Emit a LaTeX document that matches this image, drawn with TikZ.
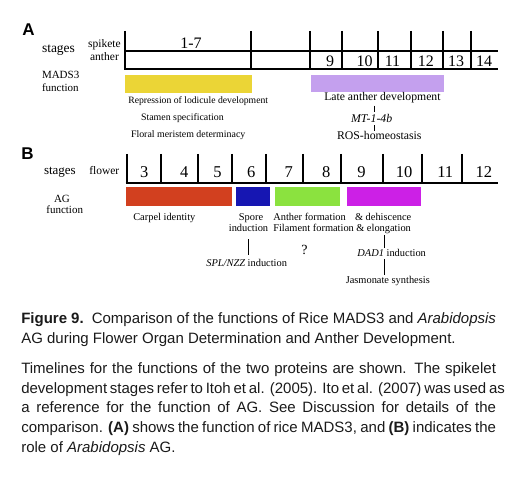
\documentclass[tikz,border=0pt]{standalone}
\usepackage{fontspec}
\setmainfont{Liberation Serif}
\newfontfamily\capfont{Liberation Sans}
\definecolor{cyel}{HTML}{EBD536}
\definecolor{clav}{HTML}{C4A0EE}
\definecolor{cred}{HTML}{D2401F}
\definecolor{cblue}{HTML}{1616B2}
\definecolor{cgreen}{HTML}{8BE23F}
\definecolor{cmag}{HTML}{CC20E6}
\definecolor{captxt}{HTML}{1A1A1A}
\newcommand{\fs}[1]{\fontsize{#1}{#1}\selectfont}
\begin{document}
\begin{tikzpicture}[x=1pt,y=-1pt,
  tl/.style={line width=2pt},
  tick/.style={line width=0.9pt},
  txt/.style={inner sep=0pt,outer sep=0pt},
  panel/.style={txt,font=\capfont\bfseries\fs{17}},
  num/.style={txt,anchor=base,font=\fs{16}},
  captext/.style={txt,anchor=mid west,font=\capfont\fs{15},text=captxt}]
\useasboundingbox (0,0) rectangle (520,478);
% ---------------- Panel A ----------------
\node[panel] (pA) at (28.5,29.5) {A};
\node[txt,anchor=mid west,font=\fs{13.5}] (stA) at (42,50) {stages};
\node[txt,anchor=mid,font=\fs{11.5}] (spk) at (104.5,45) {spikete};
\node[txt,anchor=mid,font=\fs{11.5}] (anth) at (104.5,58.3) {anther};
\node[txt,anchor=mid west,font=\fs{11}] (mads) at (42,76.5) {MADS3};
\node[txt,anchor=mid west,font=\fs{11}] (mfun) at (42,89.3) {function};
% timeline A
\draw[tl] (125.3,51) -- (498.3,51);
\draw[tl] (124.3,69.5) -- (498.3,69.5);
\foreach \x in {125.3,251,310,341.7,377.7,410.7,442.7,471}
  \draw[tl] (\x,31) -- (\x,70.5);
\node[num] (s17) at (191,48.3) {1-7};
\node[num] (a9) at (330,66.7) {9};
\node[num] (a10) at (364.7,66.7) {10};
\node[num] (a11) at (392.5,66.7) {11};
\node[num] (a12) at (425.8,66.7) {12};
\node[num] (a13) at (456,66.7) {13};
\node[num] (a14) at (484,66.7) {14};
% bars A
\fill[cyel] (125.3,74.7) rectangle (251.7,92.7);
\fill[clav] (311,74.7) rectangle (444.3,92.3);
% texts A
\node[txt,anchor=mid west,font=\fs{9.7}] (rep) at (128.3,101.7) {Repression of lodicule development};
\node[txt,anchor=mid west,font=\fs{9.9}] (stam) at (141,118.3) {Stamen specification};
\node[txt,anchor=mid west,font=\fs{9.9}] (flor) at (131,135.3) {Floral meristem determinacy};
\node[txt,anchor=mid,font=\fs{11.7}] (late) at (382.4,98.3) {Late anther development};
\node[txt,anchor=mid,font=\fs{11.8}] (mt) at (371.7,120) {\itshape MT-1-4b};
\node[txt,anchor=mid,font=\fs{11.8}] (ros) at (379.3,137) {ROS-homeostasis};
\coordinate (tkA) at (374,0);
\draw[tick,shorten <=2.5pt,shorten >=2.5pt] (late.south -| tkA) -- (mt.north -| tkA);
\draw[tick,shorten <=3pt,shorten >=0.5pt] (mt.south -| tkA) -- (ros.north -| tkA);
% ---------------- Panel B ----------------
\node[panel] (pB) at (27.5,154) {B};
\node[txt,anchor=mid west,font=\fs{13}] (stB) at (44,172.3) {stages};
\node[txt,anchor=mid,font=\fs{11.5}] (flw) at (104.3,172.3) {flower};
\node[txt,anchor=mid,font=\fs{11}] (ag) at (62,200) {AG};
\node[txt,anchor=mid,font=\fs{11}] (agf) at (64.7,211) {function};
% timeline B
\draw[tl] (125.7,182.7) -- (498.3,182.7);
\foreach \x in {126.7,161.3,198,232.3,266,303.3,340.7,383.3,422.3,462.3}
  \draw[tl] (\x,154) -- (\x,183.7);
\node[num,font=\fs{16.5}] (b3) at (144.2,177.3) {3};
\node[num,font=\fs{16.5}] (b4) at (184.2,177.3) {4};
\node[num,font=\fs{16.5}] (b5) at (217.5,177.3) {5};
\node[num,font=\fs{16.5}] (b6) at (251.2,177.3) {6};
\node[num,font=\fs{16.5}] (b7) at (288.7,177.3) {7};
\node[num,font=\fs{16.5}] (b8) at (326.2,177.3) {8};
\node[num,font=\fs{16.5}] (b9) at (361.5,177.3) {9};
\node[num,font=\fs{16.5}] (b10) at (404,177.3) {10};
\node[num,font=\fs{16.5}] (b11) at (445.3,177.3) {11};
\node[num,font=\fs{16.5}] (b12) at (483.8,177.3) {12};
% bars B
\fill[cred] (126,187.3) rectangle (232.3,205.7);
\fill[cblue] (235.7,187.3) rectangle (270,205.7);
\fill[cgreen] (275,187.3) rectangle (340,205.7);
\fill[cmag] (347.3,187.3) rectangle (420.7,205.7);
% texts B
\node[txt,anchor=mid west,font=\fs{10.4}] (carp) at (133.3,218.3) {Carpel identity};
\node[txt,anchor=mid,font=\fs{10.4}] (spore) at (251,218.3) {Spore};
\node[txt,anchor=mid,font=\fs{10.4}] (sind) at (248.5,229.3) {induction};
\node[txt,anchor=mid,font=\fs{10.4}] (spl) at (246.7,264) {\itshape SPL/NZZ\upshape\ induction};
\coordinate (tkS) at (248.3,0);
\draw[line width=1.4pt,shorten <=7.5pt,shorten >=4.5pt] (sind.south -| tkS) -- (spl.north -| tkS);
\node[txt,anchor=mid west,font=\fs{10.4}] (anf) at (273.3,218.3) {Anther formation};
\node[txt,anchor=mid west,font=\fs{10.4}] (fil) at (273.3,229.3) {Filament formation};
\node[txt,anchor=mid west,font=\fs{10.4}] (dhs) at (355,218.3) {\& dehiscence};
\node[txt,anchor=mid west,font=\fs{10.4}] (elg) at (356.3,229.3) {\& elongation};
\node[txt,anchor=mid,font=\fs{14}] (qm) at (304.5,252) {?};
\node[txt,anchor=mid,font=\fs{10.4}] (dad) at (391.7,254) {\itshape DAD1\upshape\ induction};
\node[txt,anchor=mid,font=\fs{10.4}] (jas) at (387.8,281.7) {Jasmonate synthesis};
\coordinate (tkD) at (384.3,0);
\draw[line width=1.4pt,shorten <=1pt,shorten >=1.5pt] (elg.south -| tkD) -- (dad.north -| tkD);
\draw[line width=1.4pt,shorten <=3pt,shorten >=2pt] (dad.south -| tkD) -- (jas.north -| tkD);
% ---------------- Caption ----------------
\node[captext] (c1) at (21.3,321.7) {\makebox[474.7pt][s]{\bfseries Figure 9.\mdseries\ \ Comparison of the functions of Rice MADS3 and \itshape Arabidopsis}};
\node[captext] (c2) at (21.3,341) {AG during Flower Organ Determination and Anther Development.};
\node[captext] (p1) at (21.3,371) {\makebox[474.7pt][s]{Timelines for the functions of the two proteins are shown. The spikelet}};
\node[captext] (p2) at (21.3,390.8) {\makebox[474.7pt][s]{development stages refer to Itoh et al. (2005). Ito et al. (2007) was used as}};
\node[captext] (p3) at (21.3,410.7) {\makebox[474.7pt][s]{a reference for the function of AG. See Discussion for details of the}};
\node[captext] (p4) at (21.3,430.7) {\makebox[474.7pt][s]{comparison. \textbf{(A)} shows the function of rice MADS3, and \textbf{(B)} indicates the}};
\node[captext] (p5) at (21.3,450.5) {role of \textit{Arabidopsis} AG.};
\end{tikzpicture}
\end{document}
